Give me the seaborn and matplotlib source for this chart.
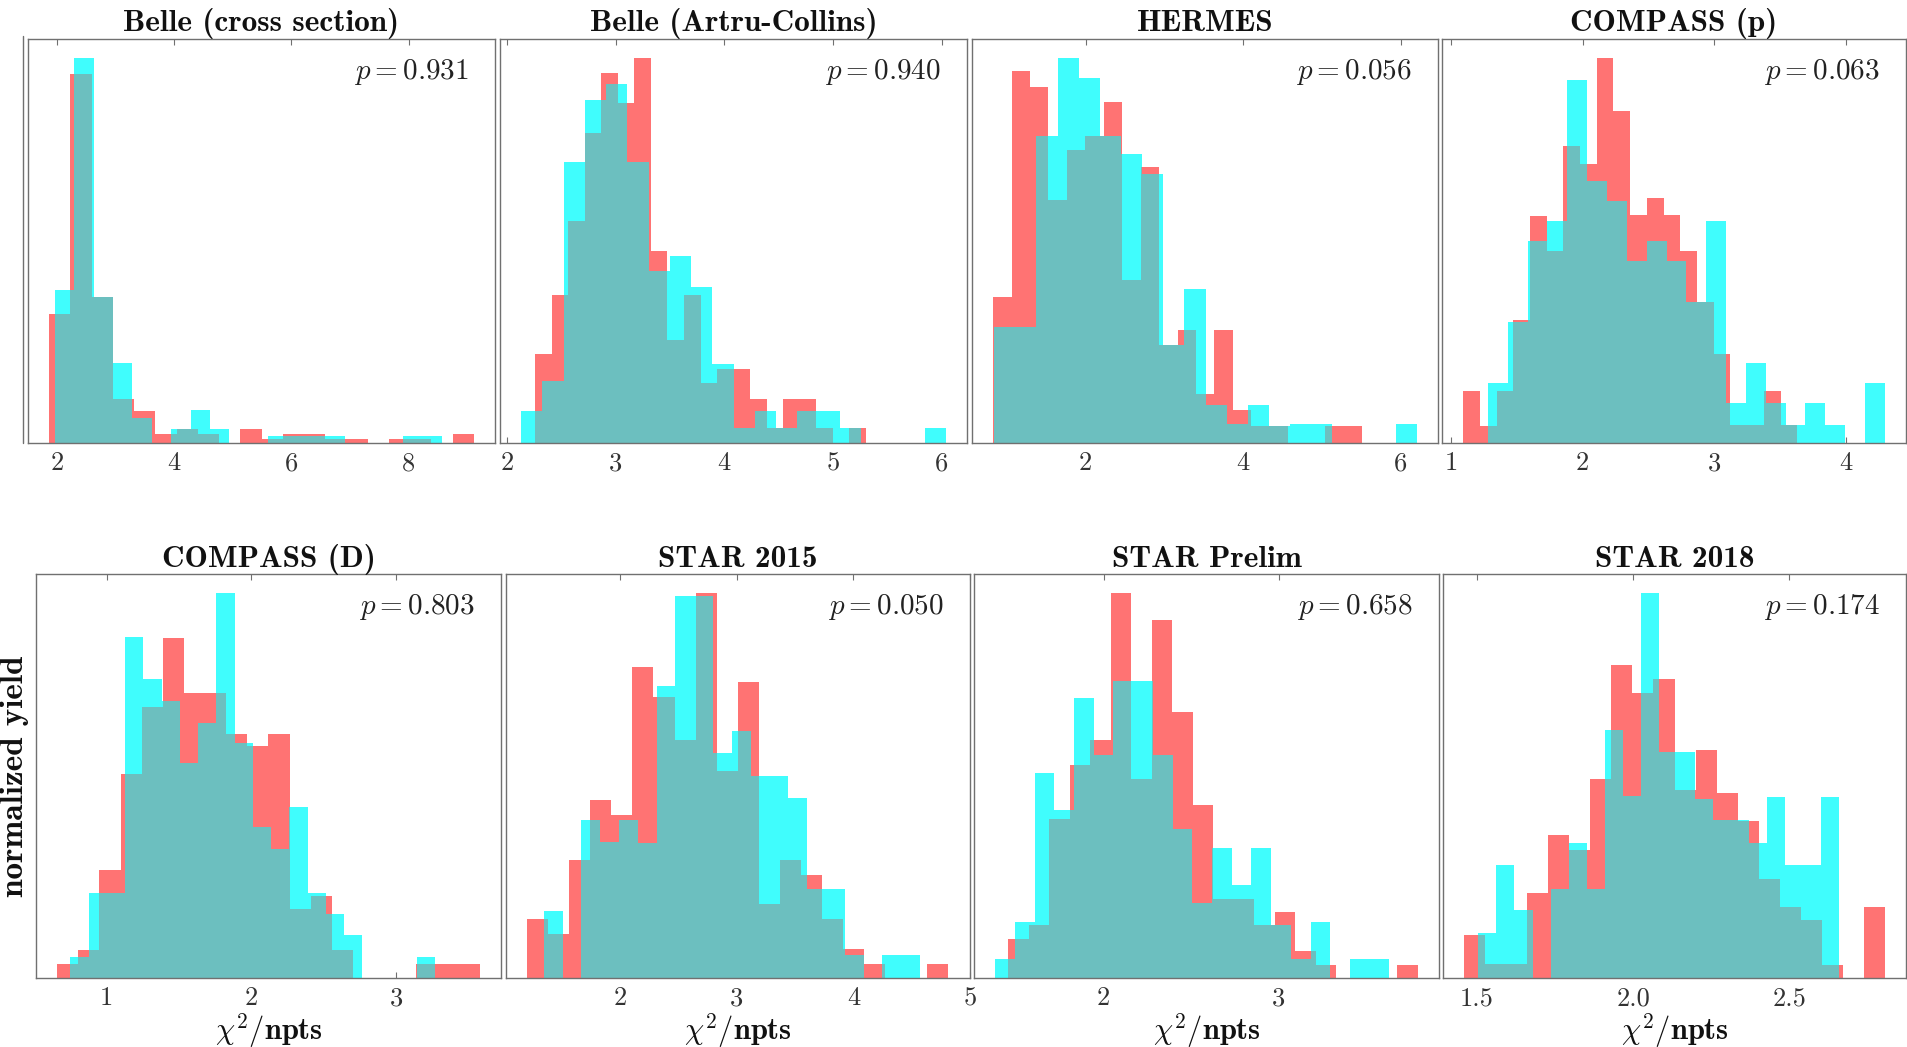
import numpy as np
import pandas as pd
import matplotlib
matplotlib.use("Agg")
import matplotlib.pyplot as plt
from matplotlib.lines import Line2D
import seaborn as sns

# ---------------------------------------------------------------- data
titles = ["Belle (cross section)", "Belle (Artru-Collins)", "HERMES", "COMPASS (p)",
          "COMPASS (D)", "STAR 2015", "STAR Prelim", "STAR 2018"]
p_values = ["0.931", "0.940", "0.056", "0.063", "0.803", "0.050", "0.658", "0.174"]

# chi2/npts range covered by each histogram (20 equal-width bins each)
red_range = [(1.870, 9.110), (2.261, 5.301), (0.825, 5.508), (1.093, 3.631),
             (0.659, 3.579), (1.200, 4.814), (1.456, 3.794), (1.4595, 2.806)]
cyan_range = [(1.970, 8.570), (2.132, 6.037), (0.838, 6.205), (1.281, 4.296),
              (0.751, 3.272), (1.343, 4.571), (1.380, 3.632), (1.5053, 2.660)]

# yields per bin (arbitrary units, normalised per panel when drawn)
belle_xs_red = [390, 1113, 440, 133, 95, 27, 42, 27, 0, 42, 13, 27, 27, 13, 13, 0, 13, 13, 0, 27]
belle_xs_cyan = [460, 1160, 440, 242, 75, 0, 42, 100, 42, 0, 0, 20, 20, 20, 20, 0, 0, 0, 20, 20]
belle_ac_red = [268, 445, 670, 935, 1115, 1025, 1160, 578, 312, 445, 180, 222, 222, 132, 45, 132, 132, 45, 0, 45]
belle_ac_cyan = [95, 188, 847, 1035, 1082, 847, 520, 565, 470, 237, 45, 95, 45, 95, 95, 45, 0, 0, 0, 45]
hermes_red = [440, 1123, 1073, 732, 882, 927, 1027, 490, 832, 295, 342, 147, 342, 100, 50, 50, 0, 0, 50, 50]
hermes_cyan = [350, 350, 927, 1160, 1100, 927, 870, 810, 295, 465, 115, 57, 115, 50, 57, 57, 0, 0, 0, 57]
compass_p_red = [158, 52, 158, 370, 685, 578, 895, 842, 1160, 1000, 688, 738, 688, 578, 425, 268, 55, 55, 158, 55]
compass_p_cyan = [182, 365, 608, 668, 1093, 790, 730, 550, 608, 550, 425, 668, 122, 242, 122, 55, 122, 55, 0, 182]
compass_d_red = [41, 83, 325, 611, 815, 1020, 855, 855, 733, 695, 733, 208, 245, 83, 0, 0, 0, 41, 41, 41]
compass_d_cyan = [63, 255, 255, 1025, 898, 833, 645, 765, 1155, 705, 453, 388, 513, 255, 193, 128, 0, 0, 0, 63]
star15_red = [176, 133, 355, 533, 488, 931, 843, 713, 1153, 621, 888, 223, 355, 308, 176, 88, 43, 0, 0, 43]
star15_cyan = [200, 0, 473, 408, 473, 405, 875, 1145, 1145, 673, 741, 605, 605, 538, 268, 268, 68, 0, 68, 68]
star_pre_red = [118, 158, 478, 638, 715, 1155, 598, 1075, 798, 518, 238, 238, 158, 198, 81, 40, 0, 0, 0, 40]
star_pre_cyan = [56, 168, 615, 505, 840, 670, 893, 893, 670, 448, 225, 391, 278, 391, 158, 56, 168, 0, 56, 56]
star18_red = [128, 43, 43, 256, 428, 383, 598, 941, 855, 898, 563, 685, 555, 471, 298, 213, 173, 40, 0, 213]
star18_cyan = [135, 340, 203, 0, 268, 405, 268, 743, 545, 1155, 678, 678, 538, 475, 475, 405, 543, 340, 340, 543]

red_yields = [belle_xs_red, belle_ac_red, hermes_red, compass_p_red,
              compass_d_red, star15_red, star_pre_red, star18_red]
cyan_yields = [belle_xs_cyan, belle_ac_cyan, hermes_cyan, compass_p_cyan,
               compass_d_cyan, star15_cyan, star_pre_cyan, star18_cyan]

xtick_values = [[2, 4, 6, 8], [2, 3, 4, 5, 6], [2, 4, 6], [1, 2, 3, 4],
                [1, 2, 3], [2, 3, 4, 5], [2, 3], [1.5, 2.0, 2.5]]
xtick_labels = [["2", "4", "6", "8"], ["2", "3", "4", "5", "6"], ["2", "4", "6"],
                ["1", "2", "3", "4"], ["1", "2", "3"], ["2", "3", "4", "5"],
                ["2", "3"], ["1.5", "2.0", "2.5"]]

# ---------------------------------------------------------------- style
sns.set_style("white")
plt.rcParams.update({
    "font.family": "serif",
    "font.serif": ["cmr10"],
    "mathtext.fontset": "cm",
    "axes.formatter.use_mathtext": True,
    "axes.unicode_minus": False,
})

RED = "#ff7373"
CYAN = "#40fdfd"
TEAL = "#6cbfbf"
SPINE = "#707070"
BOLD = "cmb10"

W, H = 1907, 1047
fig = plt.figure(figsize=(W / 100, H / 100), dpi=100)

# axes boxes in pixels: (left, top, right, bottom)
boxes = [(28, 39, 495, 443), (500, 39, 967, 443), (972, 39, 1438, 443), (1442, 39, 1906, 443),
         (36, 574, 501, 978), (506, 574, 970, 978), (974, 574, 1439, 978), (1443, 574, 1906, 978)]


def step_at(edges, heights, x):
    idx = np.searchsorted(edges, x, side="right") - 1
    out = np.zeros_like(x, dtype=float)
    ok = (idx >= 0) & (idx < len(heights))
    out[ok] = np.asarray(heights, dtype=float)[idx[ok]]
    return out


def draw_hist(ax, edges, heights, color):
    table = pd.DataFrame({"chi2": 0.5 * (edges[:-1] + edges[1:]),
                          "yield": np.asarray(heights, dtype=float)})
    sns.histplot(data=table, x="chi2", weights="yield", bins=list(edges),
                 element="step", fill=True, linewidth=0, alpha=1,
                 stat="count", color=color, ax=ax)


for i in range(8):
    l, t, r, b = boxes[i]
    ax = fig.add_axes([l / W, 1 - b / H, (r - l) / W, (b - t) / H])

    scale = max(max(red_yields[i]), max(cyan_yields[i]))
    red_h = np.asarray(red_yields[i], dtype=float) / scale
    cyan_h = np.asarray(cyan_yields[i], dtype=float) / scale
    red_edges = np.linspace(*red_range[i], len(red_h) + 1)
    cyan_edges = np.linspace(*cyan_range[i], len(cyan_h) + 1)

    # shared part of the two distributions
    union = np.union1d(red_edges, cyan_edges)
    mids = 0.5 * (union[:-1] + union[1:])
    common = np.minimum(step_at(red_edges, red_h, mids), step_at(cyan_edges, cyan_h, mids))

    draw_hist(ax, red_edges, red_h, RED)
    draw_hist(ax, cyan_edges, cyan_h, CYAN)
    draw_hist(ax, union, common, TEAL)

    ax.set_xticks(xtick_values[i])
    ax.set_xticklabels(xtick_labels[i])
    ax.tick_params(axis="x", direction="in", top=True, bottom=True, length=4,
                   width=0.8, color=SPINE, labelsize=19, labelcolor="#333333", pad=6)
    ax.tick_params(axis="y", left=False, right=False, labelleft=False)
    for s in ax.spines.values():
        s.set_color(SPINE)
        s.set_linewidth(1.0)

    ax.set_title(titles[i], fontfamily=BOLD, fontsize=22.5, color="#111111",
                 pad=6 if i < 4 else 5)
    ax.text(0.944, 0.90, r"$p = " + p_values[i] + "$", transform=ax.transAxes,
            ha="right", va="baseline", fontsize=21, color="#222222")

    ax.set_ylabel("")
    if i >= 4:
        ax.set_xlabel(r"$\chi^2/\mathbf{npts}$", fontsize=22, color="#111111")
        ax.xaxis.set_label_coords(0.5, -0.131)
        ax.xaxis.label.set_verticalalignment("center")
    else:
        ax.set_xlabel("")
    if i == 4:
        ax.set_ylabel("normalized yield", fontfamily=BOLD, fontsize=24, color="#111111")
        ax.yaxis.set_label_coords(-0.016, 0.5)

# thin frame line left of the first row
fig.add_artist(Line2D([23 / W, 23 / W], [1 - 443 / H, 1 - 36 / H],
                      color=SPINE, linewidth=1.0))

fig.savefig("out.png", dpi=100)
